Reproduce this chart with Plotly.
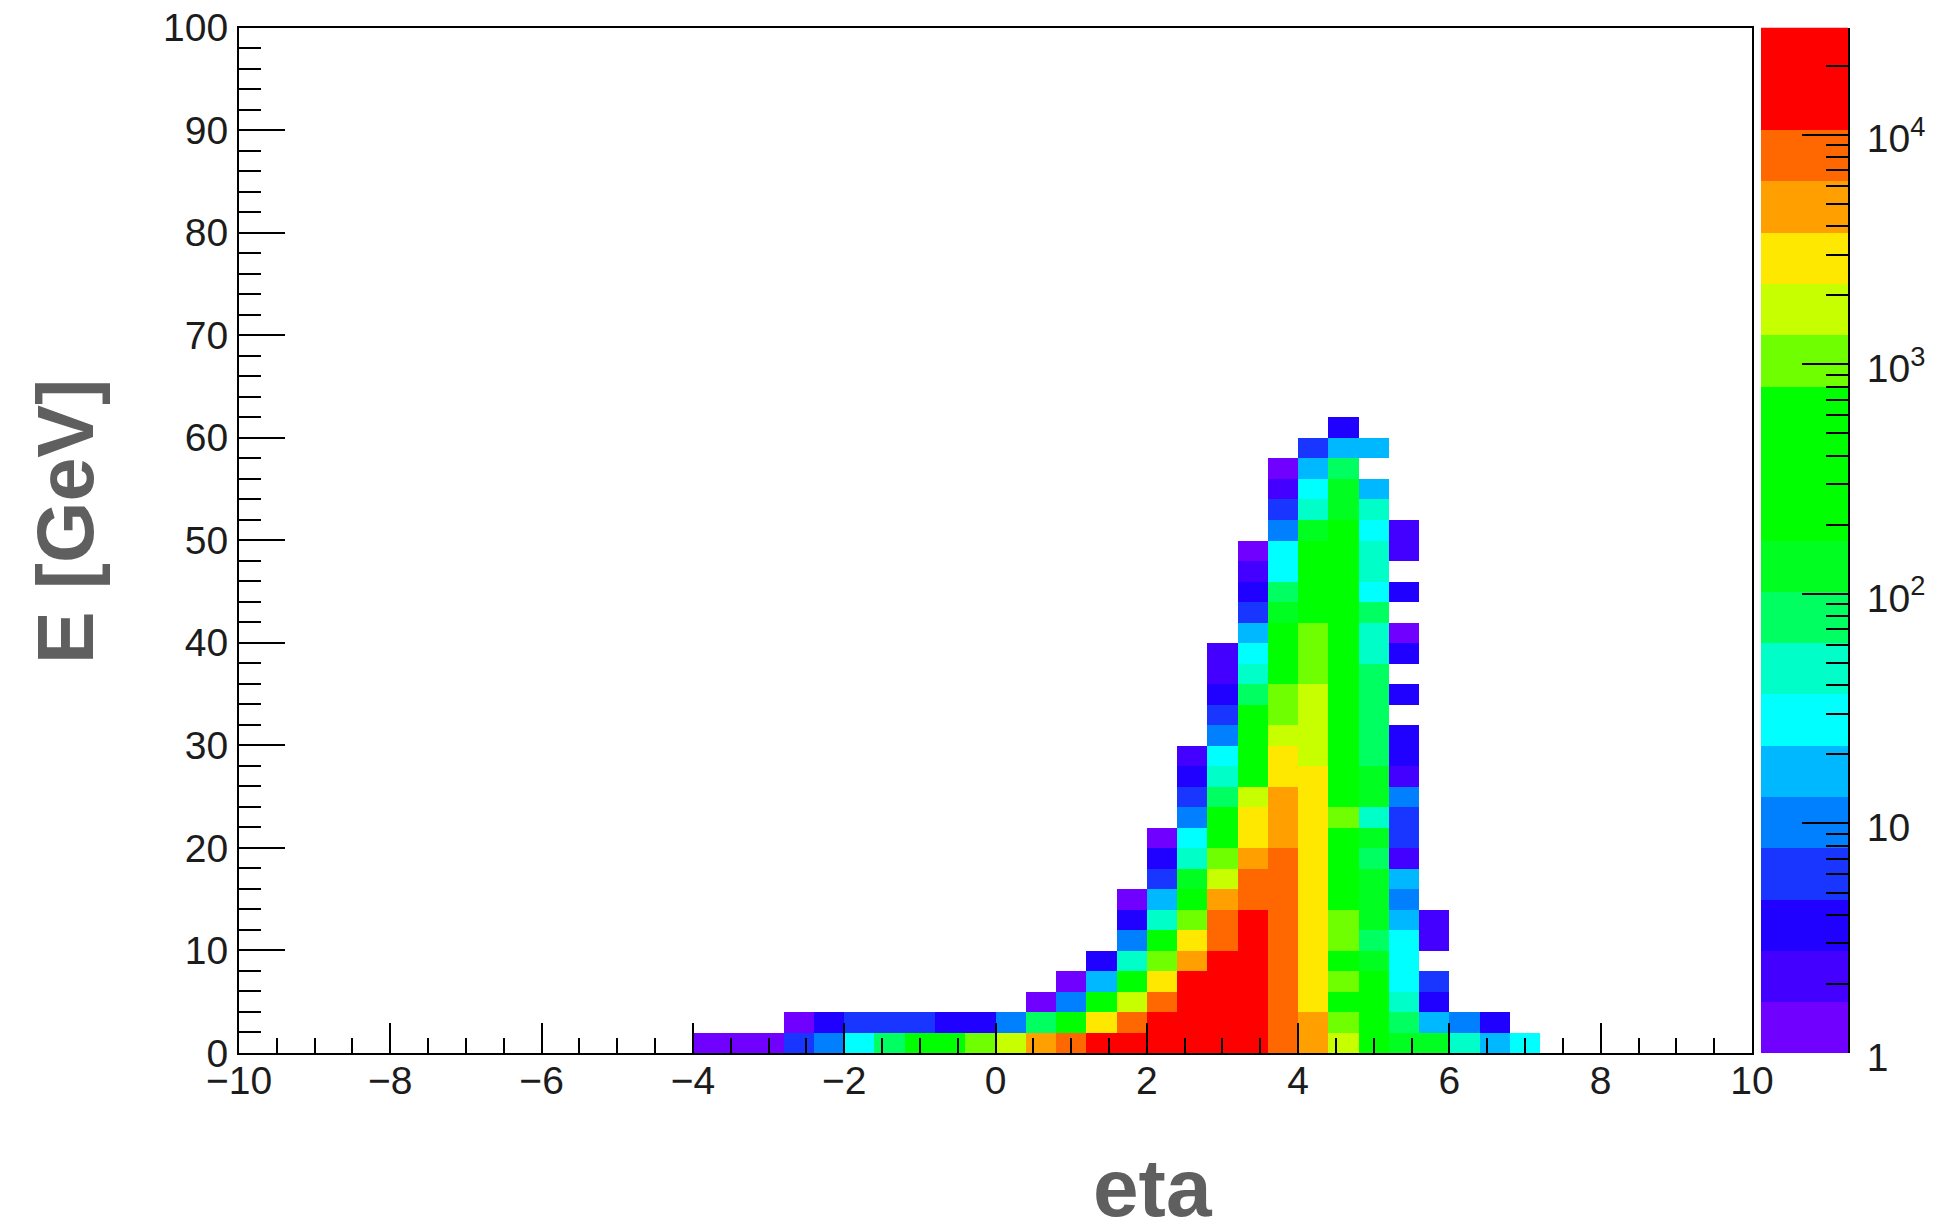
import numpy as np
import plotly.graph_objects as go

# axis ranges and binning of the histogram
eta_min, eta_max, eta_bins = -10.0, 10.0, 50
e_min, e_max, e_bins = 0.0, 100.0, 50
log_zmax = 4.467

# Entries per E bin (from E=0 upward) read for each eta bin; None = empty bin
R, r = 22000, 13600
eta_bin_15 = [1]
eta_bin_16 = [1]
eta_bin_17 = [1]
eta_bin_18 = [6, 1]
eta_bin_19 = [10, 3]
eta_bin_20 = [28, 6]
eta_bin_21 = [79, 6]
eta_bin_22 = [220, 6]
eta_bin_23 = [220, 3]
eta_bin_24 = [1030, 3]
eta_bin_25 = [1725, 10]
eta_bin_26 = [4840, 79, 1]
eta_bin_27 = [8100, 220, 10, 1]
eta_bin_28 = [r, 2890, 220, 17, 3]
eta_bin_29 = [r, 8100, 1725, 220, 47, 10, 3, 1]
eta_bin_30 = [r, r, 8100, 2890, 1030, 220, 47, 17, 6, 3, 1]
eta_bin_31 = [R, R, r, r, 4840, 2890, 1030, 220, 132, 47, 28, 10, 6, 3, 2]
eta_bin_32 = [R, R, R, r, r, 8100, 8100, 4840, 1725, 1030, 220, 220, 79, 47, 28, 10, 6, 3, 2, 2]
eta_bin_33 = [R, R, R, R, r, r, r, 8100, 8100, 4840, 2890, 2890, 1725, 220, 220, 220, 220,
              79, 47, 28, 17, 6, 3, 2, 1]
eta_bin_34 = [8100, 8100, 8100, 8100, 8100, 8100, 8100, 8100, 8100, 8100, 4840, 4840, 4840,
              2890, 2890, 1725, 1030, 1030, 220, 220, 220, 132, 79, 28, 28, 10, 6, 2, 1]
eta_bin_35 = [4840, 4840, 2890, 2890, 2890, 2890, 2890, 2890, 2890, 2890, 2890, 2890, 2890, 2890,
              1725, 1725, 1725, 1725, 1030, 1030, 1030, 220, 220, 220, 220, 132, 47, 28, 17, 6]
eta_bin_36 = [1725, 1030, 617, 1030, 617, 1030, 1030, 617, 617, 617, 617, 1030, 617, 617, 617,
              617, 368, 368, 368, 368, 368, 220, 220, 220, 220, 220, 132, 132, 79, 17, 3]
eta_bin_37 = [220, 220, 220, 220, 132, 79, 132, 132, 132, 79, 132, 47, 132, 132, 79, 79, 79, 79,
              79, 47, 47, 79, 28, 47, 47, 28, 47, 17, None, 17]
eta_bin_38 = [132, 79, 47, 28, 28, 28, 17, 10, 17, 2, 6, 6, 10, 2, 3, 3, None, 3, None, 3, 1,
              None, 3, None, 2, 2]
eta_bin_39 = [132, 17, 3, 6, None, 2, 2]
eta_bin_40 = [47, 10]
eta_bin_41 = [17, 3]
eta_bin_42 = [28]

first_filled_bin = 15
eta_columns = [eta_bin_15, eta_bin_16, eta_bin_17, eta_bin_18, eta_bin_19, eta_bin_20, eta_bin_21,
               eta_bin_22, eta_bin_23, eta_bin_24, eta_bin_25, eta_bin_26, eta_bin_27, eta_bin_28,
               eta_bin_29, eta_bin_30, eta_bin_31, eta_bin_32, eta_bin_33, eta_bin_34, eta_bin_35,
               eta_bin_36, eta_bin_37, eta_bin_38, eta_bin_39, eta_bin_40, eta_bin_41, eta_bin_42]

# 20-step palette, lowest level first
palette = ["#7000ff", "#4400ff", "#2000ff", "#1836ff", "#0080ff", "#00b8ff", "#00ffff",
           "#00ffc8", "#00ff60", "#00ff20", "#00ff00", "#00ff00", "#00ff00", "#70ff00",
           "#c8ff00", "#ffe800", "#ffa000", "#ff6800", "#ff0000", "#ff0000"]

W, H = 1946, 1224
PL, PR, PT, PB = 239, 1752, 27.5, 1053
CL, CR = 1761, 1848
FONT = "Liberation Sans"
TICK = "#1c1c1c"
TITLE = "#5f5f5f"

z = [[None] * eta_bins for _ in range(e_bins)]
for k, col in enumerate(eta_columns):
    for j, v in enumerate(col):
        if v is not None:
            z[j][first_filled_bin + k] = float(np.log10(v))

n = len(palette)
colorscale = []
for k, c in enumerate(palette):
    colorscale += [[k / n, c], [(k + 1) / n, c]]

dx = (eta_max - eta_min) / eta_bins
dy = (e_max - e_min) / e_bins

fig = go.Figure()
fig.add_trace(go.Heatmap(z=z, x0=eta_min + dx / 2, dx=dx, y0=e_min + dy / 2, dy=dy,
                         zmin=0, zmax=log_zmax, colorscale=colorscale, showscale=False,
                         hoverongaps=False, xaxis="x", yaxis="y"))

band = log_zmax / n
band_centres = [(k + 0.5) * band for k in range(n)]
fig.add_trace(go.Heatmap(z=[[b] for b in band_centres], x=[0], y=band_centres,
                         zmin=0, zmax=log_zmax, colorscale=colorscale, showscale=False,
                         hoverinfo="skip", xaxis="x2", yaxis="y2"))

major_cb = [0, 1, 2, 3, 4]
major_txt = ["1", "10", "10<sup>2</sup>", "10<sup>3</sup>", "10<sup>4</sup>"]
minor_cb = [float(d + np.log10(m)) for d in range(5) for m in range(2, 10)
            if d + np.log10(m) < log_zmax]

tickfont = dict(family=FONT, size=39, color=TICK)

fig.update_layout(
    width=W, height=H, margin=dict(l=0, r=0, t=0, b=0, pad=0, autoexpand=False),
    paper_bgcolor="white", plot_bgcolor="white", showlegend=False,
    xaxis=dict(domain=[PL / W, PR / W], range=[eta_min, eta_max], anchor="y",
               tick0=-10, dtick=2, ticks="inside", ticklen=30, tickwidth=2, tickcolor="black",
               minor=dict(dtick=0.5, tick0=-10, ticks="inside", ticklen=15, tickwidth=2,
                          tickcolor="black", showgrid=False),
               showgrid=False, zeroline=False, showline=True, linecolor="black", linewidth=2,
               mirror=True, tickfont=tickfont, ticklabelstandoff=-8),
    yaxis=dict(domain=[(H - PB) / H, (H - PT) / H], range=[e_min, e_max], anchor="x",
               tick0=0, dtick=10, ticks="inside", ticklen=46, tickwidth=2, tickcolor="black",
               minor=dict(dtick=2, tick0=0, ticks="inside", ticklen=22, tickwidth=2,
                          tickcolor="black", showgrid=False),
               showgrid=False, zeroline=False, showline=True, linecolor="black", linewidth=2,
               mirror=True, tickfont=tickfont, ticklabelstandoff=1),
    xaxis2=dict(domain=[CL / W, CR / W], anchor="y2", showgrid=False, zeroline=False,
                showticklabels=False, ticks="", showline=False),
    yaxis2=dict(domain=[(H - PB) / H, (H - PT) / H], anchor="x2", side="right",
                range=[0, log_zmax], tickmode="array", tickvals=major_cb, ticktext=major_txt,
                ticks="inside", ticklen=46, tickwidth=2, tickcolor="black",
                minor=dict(tickmode="array", tickvals=minor_cb, ticks="inside", ticklen=22,
                           tickwidth=2, tickcolor="black", showgrid=False),
                showgrid=False, zeroline=False, showline=True, linecolor="black", linewidth=2,
                tickfont=tickfont, ticklabelstandoff=9, ticklabelshift=4),
    annotations=[
        dict(text="<b>eta</b>", x=1153 / W, y=(H - 1187) / H, xref="paper", yref="paper",
             xanchor="center", yanchor="middle", showarrow=False,
             font=dict(family=FONT, size=82, color=TITLE)),
        dict(text="<b>E [GeV]</b>", x=65 / W, y=(H - 522) / H, xref="paper", yref="paper",
             xanchor="center", yanchor="middle", showarrow=False, textangle=-90,
             font=dict(family=FONT, size=79, color=TITLE)),
    ],
)

fig.write_html("out.html", config={"displayModeBar": False},
               post_script="document.body.style.margin='0';")
